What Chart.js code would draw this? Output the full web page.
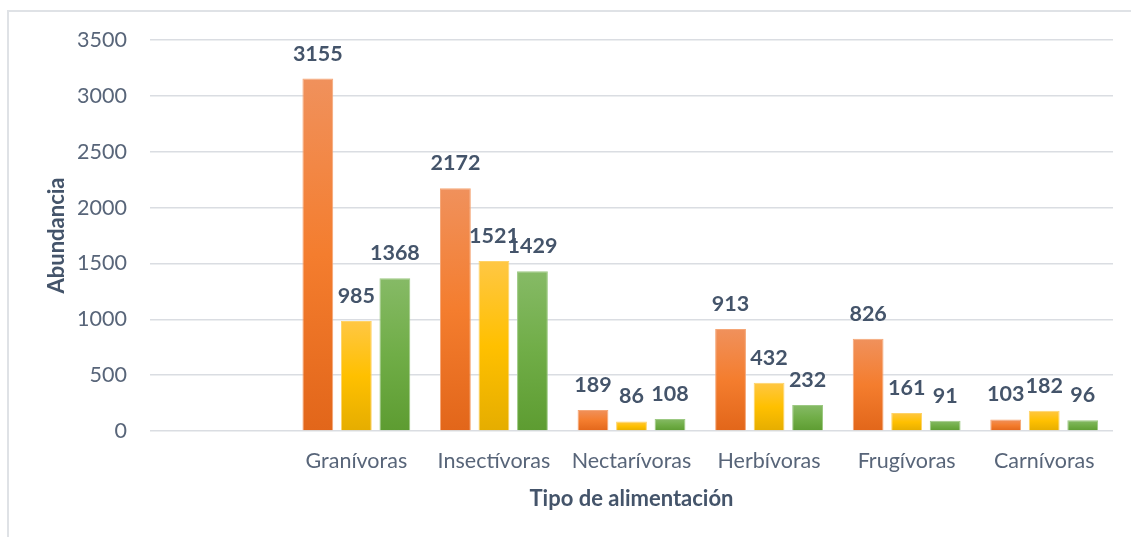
<!DOCTYPE html>
<html>
<head>
<meta charset="utf-8">
<script src="https://cdn.jsdelivr.net/npm/chart.js@4/dist/chart.umd.min.js"></script>
<style>
  html, body { margin: 0; padding: 0; background: #fff; overflow: hidden; }
  #frame { position: absolute; left: 7px; top: 10px; width: 1140px; height: 540px;
           border: 2px solid #dfe2e6; box-sizing: border-box; }
  #wrap { position: absolute; left: 0; top: 0; width: 1131px; height: 537px; }
</style>
</head>
<body>
<div id="frame"></div>
<div id="wrap"><canvas id="chart"></canvas></div>
<script>
// --- datos ---
const categorias = ['', 'Granívoras', 'Insectívoras', 'Nectarívoras', 'Herbívoras', 'Frugívoras', 'Carnívoras'];
const serie1 = [null, 3155, 2172, 189, 913, 826, 103];
const serie2 = [null, 985, 1521, 86, 432, 161, 182];
const serie3 = [null, 1368, 1429, 108, 232, 91, 96];
const yTicks = [0, 500, 1000, 1500, 2000, 2500, 3000, 3500];

const FONT = 'Lato, "Liberation Sans", sans-serif';
const TXT = '#586579';

// degradado vertical por barra (claro arriba, oscuro abajo)
function grad(stops) {
  return ctx => {
    const chart = ctx.chart;
    const v = ctx.raw;
    if (v == null || !chart.chartArea) return stops[1];
    const y = chart.scales.y;
    const top = y.getPixelForValue(v), base = y.getPixelForValue(0);
    if (!isFinite(top) || top === base) return stops[1];
    const g = chart.ctx.createLinearGradient(0, top, 0, base);
    g.addColorStop(0, stops[0]);
    g.addColorStop(0.5, stops[1]);
    g.addColorStop(1, stops[2]);
    return g;
  };
}

// etiquetas de valor encima de cada barra
const etiquetas = {
  id: 'etiquetas',
  afterDatasetsDraw(chart) {
    const c = chart.ctx;
    c.save();
    c.font = 'bold 21.5px ' + FONT;
    c.fillStyle = '#44546a';
    c.textAlign = 'center';
    c.textBaseline = 'alphabetic';
    chart.data.datasets.forEach((ds, i) => {
      chart.getDatasetMeta(i).data.forEach((bar, j) => {
        const v = ds.data[j];
        if (v == null) return;
        c.fillText(String(v), bar.x, bar.y - 18);
      });
    });
    c.restore();
  }
};

const common = { borderWidth: 1, categoryPercentage: 0.84, barPercentage: 0.8 };

new Chart(document.getElementById('chart'), {
  type: 'bar',
  data: {
    labels: categorias,
    datasets: [
      { label: 'Serie 1', data: serie1, backgroundColor: grad(['#f0915c', '#f47d2e', '#e2661a']), borderColor: '#f5a676', ...common },
      { label: 'Serie 2', data: serie2, backgroundColor: grad(['#ffc744', '#ffc000', '#e5ad00']), borderColor: '#ffd366', ...common },
      { label: 'Serie 3', data: serie3, backgroundColor: grad(['#86ba66', '#70ad47', '#5d9c31']), borderColor: '#9cc982', ...common }
    ]
  },
  options: {
    responsive: true,
    maintainAspectRatio: false,
    animation: false,
    layout: { padding: { top: 40, right: 18, left: 0, bottom: 0 } },
    plugins: { legend: { display: false }, tooltip: { enabled: false } },
    scales: {
      x: {
        grid: { display: false, drawTicks: false },
        border: { display: false },
        ticks: { color: TXT, font: { family: FONT, size: 21.5 }, padding: 17, maxRotation: 0 },
        title: { display: true, text: 'Tipo de alimentación', color: '#44546a',
                 font: { family: FONT, size: 22, weight: 'bold' }, padding: { top: 0, bottom: 25 } },
        afterFit: s => { s.height = 106; }
      },
      y: {
        min: 0, max: 3500,
        afterBuildTicks: s => { s.ticks = yTicks.map(v => ({ value: v })); },
        grid: { color: '#dadde2', lineWidth: 1.5, drawTicks: false },
        border: { display: false },
        ticks: { color: TXT, font: { family: FONT, size: 21.5 }, padding: 23, callback: v => String(v) },
        title: { display: true, text: 'Abundancia', color: '#44546a',
                 font: { family: FONT, size: 22, weight: 'bold' }, padding: { top: 44, bottom: 0 } },
        afterFit: s => { s.width = 150; }
      }
    }
  },
  plugins: [etiquetas]
});
</script>
</body>
</html>
